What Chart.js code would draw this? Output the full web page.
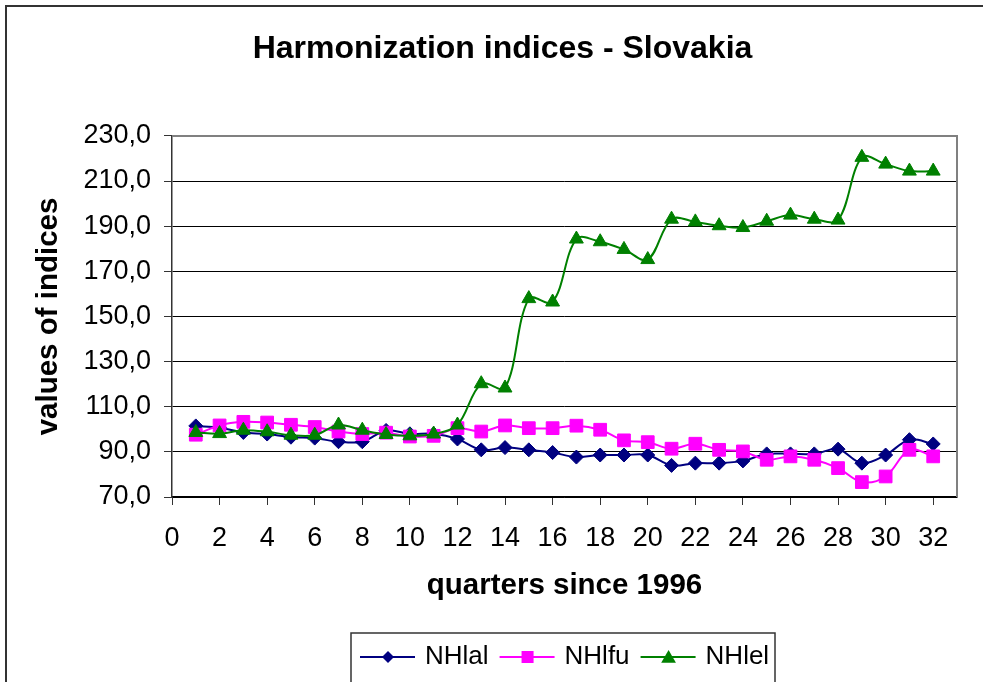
<!DOCTYPE html>
<html>
<head>
<meta charset="utf-8">
<script src="https://cdn.jsdelivr.net/npm/chart.js@4.4.0/dist/chart.umd.min.js"></script>
<style>
  html, body { margin: 0; padding: 0; background: #fff; }
  #wrap { width: 983px; height: 682px; position: relative; }
</style>
</head>
<body>
<div id="wrap"><canvas id="c"></canvas></div>
<script>
// ---- data ----
const quarters = [1,2,3,4,5,6,7,8,9,10,11,12,13,14,15,16,17,18,19,20,21,22,23,24,25,26,27,28,29,30,31,32];
const NHlal = [101.5,100.7,98.6,97.9,96.5,96.1,94.5,94.5,99.5,98.0,98.0,95.7,90.9,91.9,90.9,89.7,87.7,88.6,88.6,88.6,84.0,85.0,85.0,86.0,89.1,89.1,89.1,91.2,85.0,88.6,95.4,93.5];
const NHlfu = [97.6,101.7,103.3,103.0,102.0,101.0,99.0,97.9,98.5,96.8,97.1,100.5,99.0,101.7,100.5,100.5,101.6,99.8,95.1,94.3,91.4,93.6,90.9,90.2,86.5,88.0,86.5,82.8,76.6,79.1,90.9,88.0];
const NHlel = [98.6,98.1,99.6,98.9,97.4,97.4,101.9,99.6,97.7,97.1,97.9,101.9,120.2,118.3,157.9,156.4,184.3,183.1,179.7,175.2,193.1,191.9,190.2,189.4,192.2,194.9,193.1,192.7,220.5,217.5,214.4,214.4];
const seriesNames = ["NHlal", "NHlfu", "NHlel"];
const xTickValues = [0,2,4,6,8,10,12,14,16,18,20,22,24,26,28,30,32];
const titleText = "Harmonization indices - Slovakia";
const xTitle = "quarters since 1996";
const yTitle = "values of indices";

const FONT = "'Liberation Sans', Arial, Helvetica, sans-serif";
const colors = ["#000080", "#FF00FF", "#008000"];
const styles = ["rectRot", "rect", "triangle"];
const radii = [7, 9, 8];
const legendRadii = [6, 8.5, 8.5];

function pts(arr) { return quarters.map((q, i) => ({ x: q, y: arr[i] })); }

const seriesData = [NHlal, NHlfu, NHlel];
const datasets = seriesData.map((arr, i) => ({
  label: seriesNames[i],
  data: pts(arr),
  borderColor: colors[i],
  backgroundColor: colors[i],
  borderWidth: 2,
  pointStyle: styles[i],
  pointRadius: radii[i],
  pointHoverRadius: radii[i],
  pointBorderWidth: 1,
  pointBorderColor: colors[i],
  pointBackgroundColor: colors[i],
  tension: 0.35,
  order: 2 - i
}));

function drawMarker(ctx, style, x, y, r, color) {
  ctx.save();
  ctx.fillStyle = color;
  ctx.beginPath();
  if (style === "rectRot") {
    ctx.moveTo(x - r, y); ctx.lineTo(x, y - r); ctx.lineTo(x + r, y); ctx.lineTo(x, y + r);
  } else if (style === "rect") {
    const s = Math.SQRT1_2 * r;
    ctx.rect(x - s, y - s, 2 * s, 2 * s);
  } else {
    ctx.moveTo(x, y - r);
    ctx.lineTo(x + Math.sin(2 * Math.PI / 3) * r, y - Math.cos(2 * Math.PI / 3) * r);
    ctx.lineTo(x + Math.sin(4 * Math.PI / 3) * r, y - Math.cos(4 * Math.PI / 3) * r);
  }
  ctx.closePath();
  ctx.fill();
  ctx.restore();
}

const framePlugin = {
  id: "frame",
  beforeDraw(chart) {
    const ctx = chart.ctx;
    ctx.save();
    ctx.fillStyle = "#fff";
    ctx.fillRect(0, 0, chart.width, chart.height);
    ctx.strokeStyle = "#333";
    ctx.lineWidth = 2;
    ctx.beginPath();
    ctx.moveTo(6, chart.height + 2);
    ctx.lineTo(6, 6);
    ctx.lineTo(chart.width + 2, 6);
    ctx.stroke();
    ctx.restore();
  },
  beforeDatasetsDraw(chart) {
    const a = chart.chartArea;
    const ctx = chart.ctx;
    ctx.save();
    ctx.strokeStyle = "#808080";
    ctx.lineWidth = 2;
    ctx.beginPath();
    ctx.moveTo(a.left, a.top);
    ctx.lineTo(a.right, a.top);
    ctx.lineTo(a.right, a.bottom);
    ctx.stroke();
    ctx.restore();
  },
  afterDraw(chart) {
    const ctx = chart.ctx;
    ctx.save();
    ctx.strokeStyle = "#333";
    ctx.lineWidth = 1.5;
    ctx.strokeRect(351, 633, 424, 80);
    ctx.font = "26px " + FONT;
    ctx.textBaseline = "middle";
    ctx.fillStyle = "#000";
    let x = 360;
    const y = 657;
    chart.data.datasets.forEach((ds, i) => {
      ctx.strokeStyle = ds.borderColor;
      ctx.lineWidth = 2;
      ctx.beginPath();
      ctx.moveTo(x, y); ctx.lineTo(x + 55, y);
      ctx.stroke();
      drawMarker(ctx, ds.pointStyle, x + 28, ds.pointStyle === "triangle" ? y + 1.5 : y, legendRadii[i], ds.borderColor);
      ctx.fillStyle = "#000";
      ctx.fillText(ds.label, x + 65, y);
      x = x + 65 + ctx.measureText(ds.label).width + 11;
    });
    ctx.restore();
  }
};

new Chart(document.getElementById("c"), {
  type: "line",
  data: { datasets },
  plugins: [framePlugin],
  options: {
    responsive: true,
    maintainAspectRatio: false,
    animation: false,
    events: [],
    layout: { padding: { left: 22, right: 0, top: 0, bottom: 75 } },
    plugins: {
      legend: { display: false },
      tooltip: { enabled: false },
      title: {
        display: true,
        text: titleText,
        color: "#000",
        font: { family: FONT, size: 32, weight: "bold" },
        padding: { top: 29.5, bottom: 68 }
      }
    },
    scales: {
      x: {
        type: "linear",
        min: 0,
        max: 33,
        afterBuildTicks(scale) { scale.ticks = xTickValues.map(v => ({ value: v })); },
        afterFit(scale) { scale.height = 110; },
        ticks: {
          color: "#000",
          font: { family: FONT, size: 27 },
          padding: 17,
          autoSkip: false,
          maxRotation: 0,
          callback: v => String(v)
        },
        grid: { drawOnChartArea: false, drawTicks: true, tickLength: 8, tickColor: "#333", lineWidth: 1 },
        border: { display: true, color: "#000", width: 1.5 },
        title: {
          display: true,
          text: xTitle,
          color: "#000",
          font: { family: FONT, size: 29.5, weight: "bold" },
          padding: { top: 0, bottom: 3 }
        }
      },
      y: {
        min: 70,
        max: 230,
        afterFit(scale) { scale.width = 150; },
        ticks: {
          stepSize: 20,
          color: "#000",
          font: { family: FONT, size: 27 },
          padding: 13,
          callback: v => v.toFixed(1).replace(".", ",")
        },
        grid: {
          color: c => (c.tick && c.tick.value === 230) ? "rgba(0,0,0,0)" : "#000",
          tickColor: "#333",
          tickLength: 8,
          lineWidth: 1
        },
        border: { display: true, color: "#333", width: 1.5 },
        title: {
          display: true,
          text: yTitle,
          color: "#000",
          font: { family: FONT, size: 29.5, weight: "bold" },
          padding: { top: 9.5, bottom: 0 }
        }
      },
      yRight: {
        position: "right",
        display: true,
        min: 70,
        max: 230,
        afterFit(scale) { scale.width = 26; },
        ticks: { display: false },
        grid: { drawOnChartArea: false, drawTicks: false },
        border: { display: false }
      }
    }
  }
});
</script>
</body>
</html>
